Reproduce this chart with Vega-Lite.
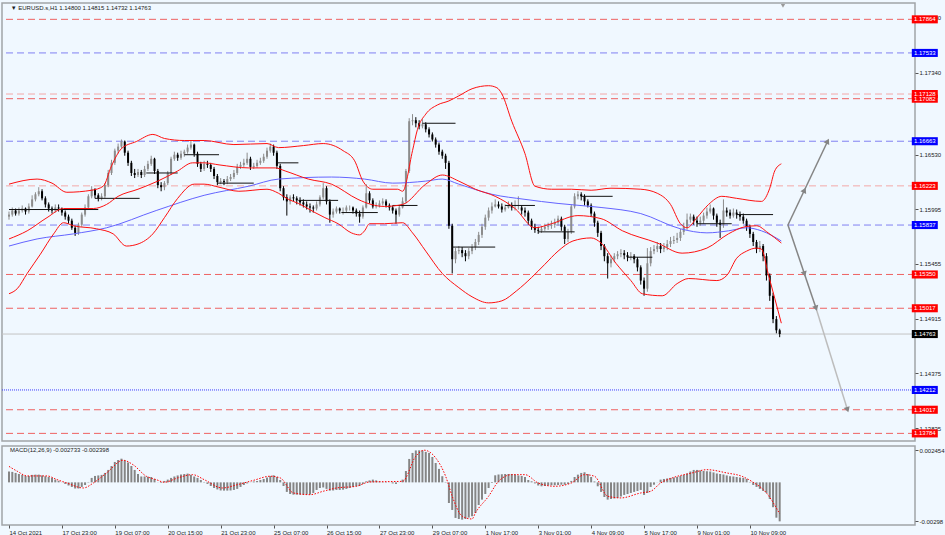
{
  "$schema": "https://vega.github.io/schema/vega-lite/v6.json",
  "background": "#f0f8ff",
  "padding": {"left": 0, "top": 2, "right": 0, "bottom": 0},
  "spacing": 3,
  "config": {
    "font": "Liberation Sans",
    "view": {"stroke": "#a0a4a8", "strokeWidth": 1.5},
    "axis": {"labelFont": "Liberation Sans", "labelFontSize": 6, "labelColor": "#1a1a1a", "tickColor": "#555555", "domain": false, "grid": false}
  },
  "datasets": {
    "bars": [
      {"i":0,"o":1.1592,"h":1.1597,"l":1.1589,"c":1.1594,"m":0.00083},
      {"i":2,"o":1.1594,"h":1.1601,"l":1.1592,"c":1.1598,"m":0.0008},
      {"i":4,"o":1.1598,"h":1.16,"l":1.1593,"c":1.1595,"m":0.00072},
      {"i":6,"o":1.1595,"h":1.1601,"l":1.1593,"c":1.1598,"m":0.00064},
      {"i":8,"o":1.1598,"h":1.1603,"l":1.1596,"c":1.16,"m":0.00057},
      {"i":10,"o":1.16,"h":1.1601,"l":1.1594,"c":1.1597,"m":0.00049},
      {"i":12,"o":1.1597,"h":1.1605,"l":1.1595,"c":1.1602,"m":0.00049},
      {"i":14,"o":1.1602,"h":1.1613,"l":1.1601,"c":1.1609,"m":0.00057},
      {"i":16,"o":1.1609,"h":1.1616,"l":1.1607,"c":1.1614,"m":0.00059},
      {"i":18,"o":1.1614,"h":1.1621,"l":1.1612,"c":1.1617,"m":0.00059},
      {"i":20,"o":1.1617,"h":1.1619,"l":1.1608,"c":1.161,"m":0.00053},
      {"i":22,"o":1.161,"h":1.1612,"l":1.1601,"c":1.1604,"m":0.00047},
      {"i":24,"o":1.1604,"h":1.1606,"l":1.1597,"c":1.16,"m":0.00041},
      {"i":26,"o":1.16,"h":1.1602,"l":1.1595,"c":1.1598,"m":0.00034},
      {"i":28,"o":1.1598,"h":1.1604,"l":1.1596,"c":1.1601,"m":0.00021},
      {"i":30,"o":1.1601,"h":1.1604,"l":1.1597,"c":1.16,"m":0.00011},
      {"i":32,"o":1.16,"h":1.1601,"l":1.1593,"c":1.1596,"m":-0.00001},
      {"i":34,"o":1.1596,"h":1.1598,"l":1.1589,"c":1.1592,"m":-0.00012},
      {"i":36,"o":1.1592,"h":1.1594,"l":1.1585,"c":1.1588,"m":-0.00024},
      {"i":38,"o":1.1588,"h":1.159,"l":1.1579,"c":1.1581,"m":-0.00035},
      {"i":40,"o":1.1581,"h":1.1583,"l":1.1573,"c":1.1576,"m":-0.00047},
      {"i":42,"o":1.1576,"h":1.1586,"l":1.1574,"c":1.1584,"m":-0.00047},
      {"i":44,"o":1.1584,"h":1.1596,"l":1.1582,"c":1.1594,"m":-0.00035},
      {"i":46,"o":1.1594,"h":1.1604,"l":1.1592,"c":1.1601,"m":-0.0002},
      {"i":48,"o":1.1601,"h":1.1614,"l":1.16,"c":1.1612,"m":0.00003},
      {"i":50,"o":1.1612,"h":1.1622,"l":1.161,"c":1.1619,"m":0.00034},
      {"i":52,"o":1.1619,"h":1.162,"l":1.161,"c":1.1613,"m":0.00049},
      {"i":54,"o":1.1613,"h":1.1615,"l":1.1607,"c":1.161,"m":0.00053},
      {"i":56,"o":1.161,"h":1.1615,"l":1.1608,"c":1.1612,"m":0.00057},
      {"i":58,"o":1.1612,"h":1.1625,"l":1.161,"c":1.1623,"m":0.00072},
      {"i":60,"o":1.1623,"h":1.1638,"l":1.1621,"c":1.1635,"m":0.00095},
      {"i":62,"o":1.1635,"h":1.1648,"l":1.1633,"c":1.1645,"m":0.00125},
      {"i":64,"o":1.1645,"h":1.1659,"l":1.1643,"c":1.1657,"m":0.00156},
      {"i":66,"o":1.1657,"h":1.1664,"l":1.1654,"c":1.1661,"m":0.00171},
      {"i":68,"o":1.1661,"h":1.1668,"l":1.1659,"c":1.1666,"m":0.00181},
      {"i":70,"o":1.1666,"h":1.1667,"l":1.1652,"c":1.1655,"m":0.00168},
      {"i":72,"o":1.1655,"h":1.1657,"l":1.1642,"c":1.1645,"m":0.00152},
      {"i":74,"o":1.1645,"h":1.1647,"l":1.1632,"c":1.1635,"m":0.00125},
      {"i":76,"o":1.1635,"h":1.1639,"l":1.163,"c":1.1633,"m":0.00095},
      {"i":78,"o":1.1633,"h":1.1639,"l":1.1631,"c":1.1636,"m":0.00064},
      {"i":80,"o":1.1636,"h":1.1638,"l":1.163,"c":1.1633,"m":0.00045},
      {"i":82,"o":1.1633,"h":1.1642,"l":1.1631,"c":1.1639,"m":0.00045},
      {"i":84,"o":1.1639,"h":1.1647,"l":1.1637,"c":1.1644,"m":0.00043},
      {"i":86,"o":1.1644,"h":1.1652,"l":1.1642,"c":1.1649,"m":0.00041},
      {"i":88,"o":1.1649,"h":1.165,"l":1.1634,"c":1.1637,"m":0.00026},
      {"i":90,"o":1.1637,"h":1.1639,"l":1.162,"c":1.1623,"m":-0.00001},
      {"i":92,"o":1.1623,"h":1.1626,"l":1.1617,"c":1.1621,"m":-0.00005},
      {"i":94,"o":1.1621,"h":1.1627,"l":1.1618,"c":1.1625,"m":0.00011},
      {"i":96,"o":1.1625,"h":1.1637,"l":1.1623,"c":1.1635,"m":0.00021},
      {"i":98,"o":1.1635,"h":1.1651,"l":1.1633,"c":1.1649,"m":0.00034},
      {"i":100,"o":1.1649,"h":1.1656,"l":1.1647,"c":1.1653,"m":0.00045},
      {"i":102,"o":1.1653,"h":1.1655,"l":1.1647,"c":1.165,"m":0.00053},
      {"i":104,"o":1.165,"h":1.1657,"l":1.1648,"c":1.1654,"m":0.0006},
      {"i":106,"o":1.1654,"h":1.1658,"l":1.1651,"c":1.1656,"m":0.00064},
      {"i":108,"o":1.1656,"h":1.1663,"l":1.1654,"c":1.166,"m":0.00067},
      {"i":110,"o":1.166,"h":1.1667,"l":1.1658,"c":1.1663,"m":0.00057},
      {"i":112,"o":1.1663,"h":1.1664,"l":1.1651,"c":1.1654,"m":0.00045},
      {"i":114,"o":1.1654,"h":1.1656,"l":1.1641,"c":1.1644,"m":0.00034},
      {"i":116,"o":1.1644,"h":1.1646,"l":1.1636,"c":1.1639,"m":0.00018},
      {"i":118,"o":1.1639,"h":1.1647,"l":1.1637,"c":1.1644,"m":0.00003},
      {"i":120,"o":1.1644,"h":1.1647,"l":1.164,"c":1.1643,"m":-0.00012},
      {"i":122,"o":1.1643,"h":1.1645,"l":1.1636,"c":1.1639,"m":-0.00028},
      {"i":124,"o":1.1639,"h":1.1641,"l":1.1629,"c":1.1632,"m":-0.00043},
      {"i":126,"o":1.1632,"h":1.1634,"l":1.1623,"c":1.1626,"m":-0.00054},
      {"i":128,"o":1.1626,"h":1.163,"l":1.1624,"c":1.1627,"m":-0.00062},
      {"i":130,"o":1.1627,"h":1.1629,"l":1.1623,"c":1.1626,"m":-0.00063},
      {"i":132,"o":1.1626,"h":1.1632,"l":1.1624,"c":1.1629,"m":-0.00063},
      {"i":134,"o":1.1629,"h":1.1634,"l":1.1627,"c":1.1631,"m":-0.00062},
      {"i":136,"o":1.1631,"h":1.1638,"l":1.1629,"c":1.1635,"m":-0.00058},
      {"i":138,"o":1.1635,"h":1.1644,"l":1.1633,"c":1.1641,"m":-0.0005},
      {"i":140,"o":1.1641,"h":1.1646,"l":1.1639,"c":1.1643,"m":-0.00035},
      {"i":142,"o":1.1643,"h":1.1649,"l":1.1641,"c":1.1645,"m":-0.0002},
      {"i":144,"o":1.1645,"h":1.1655,"l":1.1643,"c":1.1649,"m":-0.00008},
      {"i":146,"o":1.1649,"h":1.1651,"l":1.1638,"c":1.1641,"m":-0.00001},
      {"i":148,"o":1.1641,"h":1.1645,"l":1.1639,"c":1.1642,"m":0.00007},
      {"i":150,"o":1.1642,"h":1.1648,"l":1.164,"c":1.1645,"m":0.00011},
      {"i":152,"o":1.1645,"h":1.165,"l":1.1643,"c":1.1647,"m":0.00018},
      {"i":154,"o":1.1647,"h":1.1654,"l":1.1645,"c":1.1651,"m":0.00026},
      {"i":156,"o":1.1651,"h":1.166,"l":1.1649,"c":1.1657,"m":0.00037},
      {"i":158,"o":1.1657,"h":1.1664,"l":1.1655,"c":1.1661,"m":0.00049},
      {"i":160,"o":1.1661,"h":1.1663,"l":1.1652,"c":1.1655,"m":0.00054},
      {"i":162,"o":1.1655,"h":1.1657,"l":1.1639,"c":1.1642,"m":0.00041},
      {"i":164,"o":1.1642,"h":1.1644,"l":1.1617,"c":1.162,"m":0.00018},
      {"i":166,"o":1.162,"h":1.1622,"l":1.1608,"c":1.1611,"m":-0.00028},
      {"i":168,"o":1.1611,"h":1.1614,"l":1.1593,"c":1.1607,"m":-0.00073},
      {"i":170,"o":1.1607,"h":1.1613,"l":1.1604,"c":1.1611,"m":-0.00089},
      {"i":172,"o":1.1611,"h":1.1614,"l":1.1607,"c":1.161,"m":-0.00094},
      {"i":174,"o":1.161,"h":1.1612,"l":1.1604,"c":1.1608,"m":-0.00094},
      {"i":176,"o":1.1608,"h":1.1611,"l":1.1603,"c":1.1606,"m":-0.00094},
      {"i":178,"o":1.1606,"h":1.1609,"l":1.1601,"c":1.1604,"m":-0.00094},
      {"i":180,"o":1.1604,"h":1.1607,"l":1.1599,"c":1.1602,"m":-0.00093},
      {"i":182,"o":1.1602,"h":1.1605,"l":1.1596,"c":1.1601,"m":-0.00093},
      {"i":184,"o":1.1601,"h":1.1603,"l":1.1596,"c":1.16,"m":-0.00081},
      {"i":186,"o":1.16,"h":1.1607,"l":1.1598,"c":1.1604,"m":-0.00058},
      {"i":188,"o":1.1604,"h":1.1613,"l":1.1602,"c":1.1611,"m":-0.00043},
      {"i":190,"o":1.1611,"h":1.1625,"l":1.1609,"c":1.162,"m":-0.00039},
      {"i":192,"o":1.162,"h":1.1622,"l":1.1604,"c":1.1607,"m":-0.0005},
      {"i":194,"o":1.1607,"h":1.1609,"l":1.1586,"c":1.1594,"m":-0.00063},
      {"i":196,"o":1.1594,"h":1.16,"l":1.1591,"c":1.1597,"m":-0.00062},
      {"i":198,"o":1.1597,"h":1.1602,"l":1.1595,"c":1.16,"m":-0.00058},
      {"i":200,"o":1.16,"h":1.1601,"l":1.1595,"c":1.1598,"m":-0.00058},
      {"i":202,"o":1.1598,"h":1.1601,"l":1.1594,"c":1.1598,"m":-0.00056},
      {"i":204,"o":1.1598,"h":1.1603,"l":1.1596,"c":1.1601,"m":-0.0005},
      {"i":206,"o":1.1601,"h":1.1603,"l":1.1598,"c":1.1601,"m":-0.00043},
      {"i":208,"o":1.1601,"h":1.1602,"l":1.1595,"c":1.1598,"m":-0.00035},
      {"i":210,"o":1.1598,"h":1.16,"l":1.1592,"c":1.1595,"m":-0.0003},
      {"i":212,"o":1.1595,"h":1.1598,"l":1.1586,"c":1.1592,"m":-0.00028},
      {"i":214,"o":1.1592,"h":1.1603,"l":1.159,"c":1.1601,"m":-0.00012},
      {"i":216,"o":1.1601,"h":1.1624,"l":1.16,"c":1.1615,"m":0.00008},
      {"i":218,"o":1.1615,"h":1.1617,"l":1.1605,"c":1.1608,"m":0.00015},
      {"i":220,"o":1.1608,"h":1.161,"l":1.16,"c":1.1602,"m":0.00021},
      {"i":222,"o":1.1602,"h":1.1606,"l":1.16,"c":1.1603,"m":0.00015},
      {"i":224,"o":1.1603,"h":1.1608,"l":1.1601,"c":1.1605,"m":0.00007},
      {"i":226,"o":1.1605,"h":1.161,"l":1.1603,"c":1.1607,"m":0.00003},
      {"i":228,"o":1.1607,"h":1.1609,"l":1.1601,"c":1.1603,"m":0.00003},
      {"i":230,"o":1.1603,"h":1.1605,"l":1.1598,"c":1.1601,"m":-0.00001},
      {"i":232,"o":1.1601,"h":1.1603,"l":1.1595,"c":1.1598,"m":-0.00008},
      {"i":234,"o":1.1598,"h":1.16,"l":1.1585,"c":1.1594,"m":-0.00012},
      {"i":236,"o":1.1594,"h":1.1603,"l":1.1592,"c":1.1601,"m":-0.00001},
      {"i":238,"o":1.1601,"h":1.1611,"l":1.16,"c":1.1607,"m":0.00021},
      {"i":240,"o":1.1607,"h":1.1639,"l":1.1605,"c":1.1637,"m":0.00087},
      {"i":242,"o":1.1637,"h":1.1689,"l":1.1635,"c":1.1686,"m":0.00179},
      {"i":244,"o":1.1686,"h":1.1693,"l":1.1682,"c":1.1687,"m":0.00225},
      {"i":246,"o":1.1687,"h":1.169,"l":1.168,"c":1.1684,"m":0.00244},
      {"i":248,"o":1.1684,"h":1.1687,"l":1.1678,"c":1.1681,"m":0.00245},
      {"i":250,"o":1.1681,"h":1.1688,"l":1.1679,"c":1.1683,"m":0.00244},
      {"i":252,"o":1.1683,"h":1.1685,"l":1.1675,"c":1.1678,"m":0.00233},
      {"i":254,"o":1.1678,"h":1.168,"l":1.167,"c":1.1673,"m":0.00225},
      {"i":256,"o":1.1673,"h":1.1675,"l":1.1666,"c":1.1668,"m":0.00194},
      {"i":258,"o":1.1668,"h":1.167,"l":1.166,"c":1.1663,"m":0.00148},
      {"i":260,"o":1.1663,"h":1.1665,"l":1.1653,"c":1.1656,"m":0.00103},
      {"i":262,"o":1.1656,"h":1.1658,"l":1.1649,"c":1.1652,"m":0.00047},
      {"i":264,"o":1.1652,"h":1.1654,"l":1.1639,"c":1.1645,"m":0.00003},
      {"i":266,"o":1.1645,"h":1.1647,"l":1.158,"c":1.1583,"m":-0.00158},
      {"i":268,"o":1.1583,"h":1.1585,"l":1.1536,"c":1.155,"m":-0.00211},
      {"i":270,"o":1.155,"h":1.1561,"l":1.1546,"c":1.1558,"m":-0.00272},
      {"i":272,"o":1.1558,"h":1.1563,"l":1.1555,"c":1.1559,"m":-0.0028},
      {"i":274,"o":1.1559,"h":1.1562,"l":1.1552,"c":1.1556,"m":-0.00285},
      {"i":276,"o":1.1556,"h":1.1559,"l":1.1548,"c":1.1553,"m":-0.0028},
      {"i":278,"o":1.1553,"h":1.1561,"l":1.155,"c":1.1558,"m":-0.00269},
      {"i":280,"o":1.1558,"h":1.1565,"l":1.1555,"c":1.1562,"m":-0.00259},
      {"i":282,"o":1.1562,"h":1.157,"l":1.1559,"c":1.1567,"m":-0.00234},
      {"i":284,"o":1.1567,"h":1.1577,"l":1.1564,"c":1.1574,"m":-0.00173},
      {"i":286,"o":1.1574,"h":1.1585,"l":1.1571,"c":1.1582,"m":-0.00132},
      {"i":288,"o":1.1582,"h":1.1594,"l":1.1579,"c":1.1591,"m":-0.00089},
      {"i":290,"o":1.1591,"h":1.1601,"l":1.1588,"c":1.1598,"m":-0.00043},
      {"i":292,"o":1.1598,"h":1.1606,"l":1.1595,"c":1.1602,"m":-0.00005},
      {"i":294,"o":1.1602,"h":1.1609,"l":1.1601,"c":1.1604,"m":0.00054},
      {"i":296,"o":1.1604,"h":1.1607,"l":1.16,"c":1.1602,"m":0.0006},
      {"i":298,"o":1.1602,"h":1.1605,"l":1.1596,"c":1.1599,"m":0.00062},
      {"i":300,"o":1.1599,"h":1.1604,"l":1.1597,"c":1.1601,"m":0.00064},
      {"i":302,"o":1.1601,"h":1.1607,"l":1.16,"c":1.1603,"m":0.00064},
      {"i":304,"o":1.1603,"h":1.1606,"l":1.1598,"c":1.1601,"m":0.00064},
      {"i":306,"o":1.1601,"h":1.1608,"l":1.1598,"c":1.1601,"m":0.0006},
      {"i":308,"o":1.1601,"h":1.1612,"l":1.1599,"c":1.1601,"m":0.00053},
      {"i":310,"o":1.1601,"h":1.1603,"l":1.1594,"c":1.1598,"m":0.00049},
      {"i":312,"o":1.1598,"h":1.1601,"l":1.1592,"c":1.1596,"m":0.00041},
      {"i":314,"o":1.1596,"h":1.1598,"l":1.1584,"c":1.1588,"m":0.00018},
      {"i":316,"o":1.1588,"h":1.159,"l":1.1579,"c":1.1582,"m":0.00008},
      {"i":318,"o":1.1582,"h":1.1585,"l":1.1576,"c":1.1579,"m":-0.00008},
      {"i":320,"o":1.1579,"h":1.1582,"l":1.1575,"c":1.1578,"m":-0.00024},
      {"i":322,"o":1.1578,"h":1.1583,"l":1.1576,"c":1.158,"m":-0.0003},
      {"i":324,"o":1.158,"h":1.1585,"l":1.1578,"c":1.1582,"m":-0.00028},
      {"i":326,"o":1.1582,"h":1.1586,"l":1.1579,"c":1.1583,"m":-0.00024},
      {"i":328,"o":1.1583,"h":1.1588,"l":1.158,"c":1.1584,"m":-0.00022},
      {"i":330,"o":1.1584,"h":1.159,"l":1.1581,"c":1.1586,"m":-0.00022},
      {"i":332,"o":1.1586,"h":1.1593,"l":1.1583,"c":1.159,"m":-0.0002},
      {"i":334,"o":1.159,"h":1.1592,"l":1.1578,"c":1.1582,"m":-0.00018},
      {"i":336,"o":1.1582,"h":1.1584,"l":1.1565,"c":1.157,"m":-0.00018},
      {"i":338,"o":1.157,"h":1.158,"l":1.1567,"c":1.1577,"m":-0.00012},
      {"i":340,"o":1.1577,"h":1.1604,"l":1.1575,"c":1.1602,"m":0.00011},
      {"i":342,"o":1.1602,"h":1.1615,"l":1.16,"c":1.1612,"m":0.00041},
      {"i":344,"o":1.1612,"h":1.1617,"l":1.1609,"c":1.1614,"m":0.00059},
      {"i":346,"o":1.1614,"h":1.1616,"l":1.1608,"c":1.1612,"m":0.00072},
      {"i":348,"o":1.1612,"h":1.1614,"l":1.1603,"c":1.1607,"m":0.00077},
      {"i":350,"o":1.1607,"h":1.1609,"l":1.1601,"c":1.1603,"m":0.00064},
      {"i":352,"o":1.1603,"h":1.1605,"l":1.1592,"c":1.1595,"m":0.00041},
      {"i":354,"o":1.1595,"h":1.1597,"l":1.1582,"c":1.1586,"m":0.00007},
      {"i":356,"o":1.1586,"h":1.1588,"l":1.1572,"c":1.1576,"m":-0.0003},
      {"i":358,"o":1.1576,"h":1.1578,"l":1.1559,"c":1.1563,"m":-0.00073},
      {"i":360,"o":1.1563,"h":1.1565,"l":1.1548,"c":1.1553,"m":-0.00112},
      {"i":362,"o":1.1553,"h":1.1556,"l":1.1531,"c":1.1546,"m":-0.00132},
      {"i":364,"o":1.1546,"h":1.1554,"l":1.1542,"c":1.155,"m":-0.00127},
      {"i":366,"o":1.155,"h":1.1556,"l":1.1547,"c":1.1553,"m":-0.00123},
      {"i":368,"o":1.1553,"h":1.1558,"l":1.155,"c":1.1555,"m":-0.00119},
      {"i":370,"o":1.1555,"h":1.156,"l":1.1552,"c":1.1556,"m":-0.00108},
      {"i":372,"o":1.1556,"h":1.1559,"l":1.155,"c":1.1554,"m":-0.00096},
      {"i":374,"o":1.1554,"h":1.1557,"l":1.1548,"c":1.1552,"m":-0.00089},
      {"i":376,"o":1.1552,"h":1.1557,"l":1.1549,"c":1.1553,"m":-0.00081},
      {"i":378,"o":1.1553,"h":1.1555,"l":1.1546,"c":1.155,"m":-0.00073},
      {"i":380,"o":1.155,"h":1.1552,"l":1.1538,"c":1.1542,"m":-0.00066},
      {"i":382,"o":1.1542,"h":1.1544,"l":1.1525,"c":1.1529,"m":-0.00058},
      {"i":384,"o":1.1529,"h":1.1532,"l":1.1514,"c":1.1521,"m":-0.00096},
      {"i":386,"o":1.1521,"h":1.1561,"l":1.1518,"c":1.1546,"m":-0.00081},
      {"i":388,"o":1.1546,"h":1.1562,"l":1.1543,"c":1.1558,"m":-0.00035},
      {"i":390,"o":1.1558,"h":1.1564,"l":1.1555,"c":1.156,"m":-0.00018},
      {"i":392,"o":1.156,"h":1.1567,"l":1.1557,"c":1.1563,"m":-0.00001},
      {"i":394,"o":1.1563,"h":1.1566,"l":1.1556,"c":1.156,"m":0.00021},
      {"i":396,"o":1.156,"h":1.1566,"l":1.1557,"c":1.1562,"m":0.00026},
      {"i":398,"o":1.1562,"h":1.1569,"l":1.1559,"c":1.1565,"m":0.0003},
      {"i":400,"o":1.1565,"h":1.1572,"l":1.1562,"c":1.1568,"m":0.00034},
      {"i":402,"o":1.1568,"h":1.1573,"l":1.1565,"c":1.1569,"m":0.00037},
      {"i":404,"o":1.1569,"h":1.1576,"l":1.1566,"c":1.1571,"m":0.00041},
      {"i":406,"o":1.1571,"h":1.158,"l":1.1568,"c":1.1577,"m":0.00049},
      {"i":408,"o":1.1577,"h":1.1586,"l":1.1574,"c":1.1582,"m":0.00057},
      {"i":410,"o":1.1582,"h":1.1595,"l":1.1579,"c":1.1589,"m":0.00068},
      {"i":412,"o":1.1589,"h":1.1595,"l":1.1586,"c":1.1592,"m":0.00083},
      {"i":414,"o":1.1592,"h":1.1594,"l":1.1584,"c":1.1588,"m":0.00095},
      {"i":416,"o":1.1588,"h":1.1592,"l":1.1582,"c":1.1586,"m":0.00095},
      {"i":418,"o":1.1586,"h":1.1592,"l":1.1583,"c":1.1588,"m":0.00091},
      {"i":420,"o":1.1588,"h":1.1596,"l":1.1585,"c":1.1593,"m":0.00087},
      {"i":422,"o":1.1593,"h":1.1601,"l":1.159,"c":1.1597,"m":0.00085},
      {"i":424,"o":1.1597,"h":1.1604,"l":1.1595,"c":1.16,"m":0.00083},
      {"i":426,"o":1.16,"h":1.1601,"l":1.1589,"c":1.1593,"m":0.00076},
      {"i":428,"o":1.1593,"h":1.1595,"l":1.1582,"c":1.1586,"m":0.00068},
      {"i":430,"o":1.1586,"h":1.1589,"l":1.1571,"c":1.1584,"m":0.00064},
      {"i":432,"o":1.1584,"h":1.1609,"l":1.1581,"c":1.1598,"m":0.0006},
      {"i":434,"o":1.1598,"h":1.1601,"l":1.1592,"c":1.1596,"m":0.00053},
      {"i":436,"o":1.1596,"h":1.1599,"l":1.159,"c":1.1593,"m":0.00047},
      {"i":438,"o":1.1593,"h":1.16,"l":1.1591,"c":1.1596,"m":0.00045},
      {"i":440,"o":1.1596,"h":1.1599,"l":1.159,"c":1.1594,"m":0.00041},
      {"i":442,"o":1.1594,"h":1.1597,"l":1.1588,"c":1.1592,"m":0.00037},
      {"i":444,"o":1.1592,"h":1.1595,"l":1.1585,"c":1.1588,"m":0.00034},
      {"i":446,"o":1.1588,"h":1.159,"l":1.1578,"c":1.1582,"m":0.00026},
      {"i":448,"o":1.1582,"h":1.1584,"l":1.1571,"c":1.1575,"m":0.00003},
      {"i":450,"o":1.1575,"h":1.1577,"l":1.1563,"c":1.1567,"m":-0.0002},
      {"i":452,"o":1.1567,"h":1.1569,"l":1.1556,"c":1.156,"m":-0.00035},
      {"i":454,"o":1.156,"h":1.1568,"l":1.1557,"c":1.1563,"m":-0.0005},
      {"i":456,"o":1.1563,"h":1.1565,"l":1.1548,"c":1.1553,"m":-0.00066},
      {"i":458,"o":1.1553,"h":1.1556,"l":1.1529,"c":1.1534,"m":-0.00081},
      {"i":460,"o":1.1534,"h":1.1536,"l":1.1509,"c":1.1514,"m":-0.00127},
      {"i":462,"o":1.1514,"h":1.1517,"l":1.1487,"c":1.1491,"m":-0.0019},
      {"i":464,"o":1.1491,"h":1.1494,"l":1.1477,"c":1.148,"m":-0.0027},
      {"i":466,"o":1.148,"h":1.14815,"l":1.14732,"c":1.14763,"m":-0.00298}
    ],
    "signal": [
      {"i":0,"s":0.00122},{"i":5,"s":0.00085},{"i":11,"s":0.00049},{"i":23,"s":0.00049},
      {"i":29,"s":0.00021},{"i":35,"s":-0.00005},{"i":45,"s":-0.00043},{"i":51,"s":-0.00005},
      {"i":59,"s":0.00072},{"i":69,"s":0.00169},{"i":75,"s":0.00135},{"i":83,"s":0.00047},
      {"i":89,"s":0.00021},{"i":94,"s":0.00001},{"i":102,"s":0.00034},{"i":111,"s":0.00059},
      {"i":118,"s":0.00021},{"i":129,"s":-0.00043},{"i":138,"s":-0.00018},{"i":148,"s":0.00016},
      {"i":158,"s":0.00047},{"i":164,"s":0.00034},{"i":172,"s":-0.00081},{"i":182,"s":-0.00094},
      {"i":190,"s":-0.00068},{"i":198,"s":-0.00043},{"i":210,"s":-0.0003},{"i":218,"s":0.00003},
      {"i":238,"s":0.00008},{"i":246,"s":0.002},{"i":251,"s":0.00246},{"i":258,"s":0.00187},
      {"i":264,"s":0.00047},{"i":268,"s":-0.00106},{"i":274,"s":-0.00259},{"i":280,"s":-0.0028},
      {"i":282,"s":-0.00234},{"i":290,"s":-0.00106},{"i":296,"s":0.00008},{"i":304,"s":0.00059},
      {"i":312,"s":0.00059},{"i":320,"s":-0.00005},{"i":330,"s":-0.0003},{"i":340,"s":-0.00005},
      {"i":348,"s":0.00059},{"i":354,"s":0.00047},{"i":362,"s":-0.00106},{"i":370,"s":-0.00119},
      {"i":382,"s":-0.00081},{"i":388,"s":-0.00068},{"i":394,"s":-0.00005},{"i":401,"s":0.00034},
      {"i":413,"s":0.00072},{"i":422,"s":0.00097},{"i":434,"s":0.00072},{"i":443,"s":0.00047},
      {"i":449,"s":0.00008},{"i":458,"s":-0.00081},{"i":466,"s":-0.0024}
    ],
    "bands": [
      {"b":"upper","i":0,"p":1.1624},{"b":"upper","i":17,"p":1.1629},{"b":"upper","i":26,"p":1.1625},{"b":"upper","i":35,"p":1.1616},
      {"b":"upper","i":50,"p":1.1618},{"b":"upper","i":57,"p":1.1622},{"b":"upper","i":62,"p":1.1642},{"b":"upper","i":68,"p":1.1659},
      {"b":"upper","i":77,"p":1.1666},{"b":"upper","i":87,"p":1.1673},{"b":"upper","i":94,"p":1.1669},{"b":"upper","i":106,"p":1.1667},
      {"b":"upper","i":118,"p":1.1667},{"b":"upper","i":136,"p":1.1663},{"b":"upper","i":156,"p":1.1664},{"b":"upper","i":163,"p":1.166},
      {"b":"upper","i":178,"p":1.1662},{"b":"upper","i":190,"p":1.1664},{"b":"upper","i":202,"p":1.1657},{"b":"upper","i":209,"p":1.1647},
      {"b":"upper","i":214,"p":1.1627},{"b":"upper","i":220,"p":1.1619},{"b":"upper","i":235,"p":1.1619},{"b":"upper","i":238,"p":1.1617},
      {"b":"upper","i":244,"p":1.1657},{"b":"upper","i":247,"p":1.1678},{"b":"upper","i":252,"p":1.1693},{"b":"upper","i":259,"p":1.1702},
      {"b":"upper","i":266,"p":1.1706},{"b":"upper","i":272,"p":1.1711},{"b":"upper","i":280,"p":1.1718},{"b":"upper","i":290,"p":1.1721},
      {"b":"upper","i":295,"p":1.1719},{"b":"upper","i":298,"p":1.1713},{"b":"upper","i":304,"p":1.1686},{"b":"upper","i":312,"p":1.1654},
      {"b":"upper","i":318,"p":1.1622},{"b":"upper","i":328,"p":1.1619},{"b":"upper","i":340,"p":1.1619},{"b":"upper","i":352,"p":1.1618},
      {"b":"upper","i":364,"p":1.162},{"b":"upper","i":382,"p":1.1619},{"b":"upper","i":392,"p":1.1615},{"b":"upper","i":400,"p":1.1604},
      {"b":"upper","i":406,"p":1.1585},{"b":"upper","i":410,"p":1.1581},{"b":"upper","i":416,"p":1.1591},{"b":"upper","i":423,"p":1.1604},
      {"b":"upper","i":431,"p":1.1612},{"b":"upper","i":440,"p":1.161},{"b":"upper","i":455,"p":1.1607},{"b":"upper","i":460,"p":1.162},
      {"b":"upper","i":463,"p":1.1637},{"b":"upper","i":467,"p":1.1644},
      {"b":"middle","i":0,"p":1.157},{"b":"middle","i":11,"p":1.1578},{"b":"middle","i":23,"p":1.1591},{"b":"middle","i":33,"p":1.16},
      {"b":"middle","i":51,"p":1.16},{"b":"middle","i":59,"p":1.1604},{"b":"middle","i":66,"p":1.1612},{"b":"middle","i":78,"p":1.1619},
      {"b":"middle","i":90,"p":1.1627},{"b":"middle","i":102,"p":1.1637},{"b":"middle","i":111,"p":1.1645},{"b":"middle","i":118,"p":1.1645},
      {"b":"middle","i":127,"p":1.1643},{"b":"middle","i":145,"p":1.164},{"b":"middle","i":161,"p":1.164},{"b":"middle","i":167,"p":1.1637},
      {"b":"middle","i":181,"p":1.1629},{"b":"middle","i":195,"p":1.1624},{"b":"middle","i":211,"p":1.1609},{"b":"middle","i":219,"p":1.1604},
      {"b":"middle","i":227,"p":1.1602},{"b":"middle","i":238,"p":1.1604},{"b":"middle","i":252,"p":1.1624},{"b":"middle","i":262,"p":1.1633},
      {"b":"middle","i":272,"p":1.1627},{"b":"middle","i":282,"p":1.1619},{"b":"middle","i":294,"p":1.1612},{"b":"middle","i":306,"p":1.16},
      {"b":"middle","i":318,"p":1.1581},{"b":"middle","i":328,"p":1.1585},{"b":"middle","i":344,"p":1.1593},{"b":"middle","i":358,"p":1.159},
      {"b":"middle","i":371,"p":1.1578},{"b":"middle","i":392,"p":1.1566},{"b":"middle","i":407,"p":1.1556},{"b":"middle","i":422,"p":1.1561},
      {"b":"middle","i":435,"p":1.1575},{"b":"middle","i":445,"p":1.1582},{"b":"middle","i":452,"p":1.1583},{"b":"middle","i":459,"p":1.1576},
      {"b":"middle","i":467,"p":1.1566},
      {"b":"lower","i":0,"p":1.1516},{"b":"lower","i":5,"p":1.1521},{"b":"lower","i":11,"p":1.1536},{"b":"lower","i":19,"p":1.1555},
      {"b":"lower","i":27,"p":1.1575},{"b":"lower","i":33,"p":1.1586},{"b":"lower","i":39,"p":1.1583},{"b":"lower","i":53,"p":1.158},
      {"b":"lower","i":63,"p":1.1575},{"b":"lower","i":71,"p":1.1563},{"b":"lower","i":78,"p":1.1565},{"b":"lower","i":87,"p":1.1575},
      {"b":"lower","i":94,"p":1.1591},{"b":"lower","i":102,"p":1.161},{"b":"lower","i":112,"p":1.1624},{"b":"lower","i":118,"p":1.1624},
      {"b":"lower","i":127,"p":1.1621},{"b":"lower","i":139,"p":1.1617},{"b":"lower","i":156,"p":1.1619},{"b":"lower","i":163,"p":1.1615},
      {"b":"lower","i":169,"p":1.1609},{"b":"lower","i":175,"p":1.1605},{"b":"lower","i":185,"p":1.1596},{"b":"lower","i":191,"p":1.1591},
      {"b":"lower","i":199,"p":1.1585},{"b":"lower","i":207,"p":1.1576},{"b":"lower","i":212,"p":1.1574},{"b":"lower","i":215,"p":1.1578},
      {"b":"lower","i":218,"p":1.1585},{"b":"lower","i":227,"p":1.1585},{"b":"lower","i":238,"p":1.1586},{"b":"lower","i":244,"p":1.1576},
      {"b":"lower","i":252,"p":1.1558},{"b":"lower","i":262,"p":1.1536},{"b":"lower","i":272,"p":1.1522},{"b":"lower","i":280,"p":1.1513},
      {"b":"lower","i":290,"p":1.1507},{"b":"lower","i":298,"p":1.1509},{"b":"lower","i":307,"p":1.1519},{"b":"lower","i":316,"p":1.1532},
      {"b":"lower","i":324,"p":1.1545},{"b":"lower","i":332,"p":1.1558},{"b":"lower","i":341,"p":1.1568},{"b":"lower","i":352,"p":1.1571},
      {"b":"lower","i":358,"p":1.1566},{"b":"lower","i":367,"p":1.1546},{"b":"lower","i":376,"p":1.1529},{"b":"lower","i":383,"p":1.1516},
      {"b":"lower","i":395,"p":1.1514},{"b":"lower","i":404,"p":1.1526},{"b":"lower","i":411,"p":1.1531},{"b":"lower","i":428,"p":1.1529},
      {"b":"lower","i":434,"p":1.1534},{"b":"lower","i":440,"p":1.1551},{"b":"lower","i":446,"p":1.1558},{"b":"lower","i":452,"p":1.1561},
      {"b":"lower","i":455,"p":1.156},{"b":"lower","i":459,"p":1.1536},{"b":"lower","i":467,"p":1.1487}
    ],
    "ma": [
      {"i":0,"p":1.1563},{"i":17,"p":1.157},{"i":39,"p":1.1575},{"i":59,"p":1.1581},{"i":89,"p":1.1598},
      {"i":118,"p":1.1613},{"i":145,"p":1.1622},{"i":163,"p":1.1629},{"i":195,"p":1.1631},{"i":215,"p":1.1629},
      {"i":232,"p":1.1625},{"i":252,"p":1.1627},{"i":262,"p":1.1629},{"i":272,"p":1.1624},{"i":292,"p":1.1614},
      {"i":312,"p":1.1609},{"i":332,"p":1.1605},{"i":352,"p":1.1602},{"i":358,"p":1.1601},{"i":382,"p":1.1595},
      {"i":406,"p":1.158},{"i":422,"p":1.1576},{"i":435,"p":1.1578},{"i":446,"p":1.1581},{"i":455,"p":1.1578},
      {"i":467,"p":1.1568}
    ],
    "segs": [
      {"i":0,"i2":54,"p":1.1599},{"i":52,"i2":79,"p":1.161},{"i":83,"i2":102,"p":1.1635},{"i":106,"i2":127,"p":1.1653},
      {"i":126,"i2":148,"p":1.1625},{"i":162,"i2":175,"p":1.1645},{"i":175,"i2":199,"p":1.1608},{"i":201,"i2":223,"p":1.1596},
      {"i":232,"i2":247,"p":1.1603},{"i":250,"i2":270,"p":1.1684},{"i":268,"i2":294,"p":1.1562},{"i":300,"i2":318,"p":1.1603},
      {"i":320,"i2":342,"p":1.1577},{"i":346,"i2":365,"p":1.1612},{"i":374,"i2":389,"p":1.1552},{"i":416,"i2":437,"p":1.1585},
      {"i":440,"i2":462,"p":1.1594}
    ],
    "levels": [
      {"p":1.17864,"kind":"R"},{"p":1.17533,"kind":"B"},{"p":1.17128,"kind":"Rl"},{"p":1.17082,"kind":"R"},
      {"p":1.16663,"kind":"B"},{"p":1.16223,"kind":"Rl"},{"p":1.15837,"kind":"B"},{"p":1.1535,"kind":"R"},
      {"p":1.15017,"kind":"R"},{"p":1.14763,"kind":"C"},{"p":1.14212,"kind":"Bd"},{"p":1.14017,"kind":"R"},
      {"p":1.13784,"kind":"R"}
    ],
    "arrows": [
      {"i":471,"p":1.15837,"i2":495,"p2":1.16663,"seg":"a"},
      {"i":471,"p":1.15837,"i2":488,"p2":1.15017,"seg":"a"},
      {"i":488,"p":1.15017,"i2":507,"p2":1.14017,"seg":"b"}
    ],
    "heads": [
      {"i":481,"p":1.1618,"dir":"up"},{"i":495,"p":1.16663,"dir":"up"},
      {"i":481,"p":1.15355,"dir":"down"},{"i":488,"p":1.15017,"dir":"down"},{"i":507,"p":1.14017,"dir":"down"}
    ],
    "shift": [
      {"i":468,"p":1.17996}
    ]
  },
  "vconcat": [
    {
      "width": 913,
      "height": 438,
      "layer": [
        {
          "data": {"name": "levels"},
          "mark": {"type": "rule", "strokeWidth": 1},
          "encoding": {
            "y": {"field": "p", "type": "quantitative", "title": null,
                  "scale": {"domain": [1.13709, 1.18025], "nice": false, "zero": false},
                  "axis": {"orient": "right", "values": [1.1788, 1.1761, 1.1734, 1.168, 1.1653, 1.1626, 1.15995, 1.15725, 1.15455, 1.15185, 1.14915, 1.14645, 1.14375, 1.14105, 1.13835],
                           "format": ".5f", "tickSize": 3, "labelPadding": 1, "labelOverlap": false, "minExtent": 32, "maxExtent": 32, "title": null}},
            "color": {"field": "kind", "type": "nominal", "legend": null,
                      "scale": {"domain": ["R", "Rl", "B", "Bd", "C"], "range": ["#ee6262", "#f3a8a8", "#8080f2", "#3a3aff", "#c4c4c4"]}},
            "strokeDash": {"field": "kind", "type": "nominal", "legend": null,
                           "scale": {"domain": ["R", "Rl", "B", "Bd", "C"], "range": [[7, 4], [7, 4], [7, 4], [1, 1], [1, 0]]}}
          }
        },
        {
          "data": {"name": "bars"},
          "mark": {"type": "rule", "strokeWidth": 1},
          "encoding": {
            "x": {"field": "i", "type": "quantitative", "scale": {"domain": [-1.2, 544.8], "nice": false, "zero": false}, "axis": null},
            "y": {"field": "l", "type": "quantitative", "title": null, "scale": {"domain": [1.13709, 1.18025], "nice": false, "zero": false}},
            "y2": {"field": "h"},
            "color": {"condition": {"test": "datum.c >= datum.o", "value": "#8c8c8c"}, "value": "#000000"}
          }
        },
        {
          "data": {"name": "bars"},
          "mark": {"type": "bar", "width": 2},
          "encoding": {
            "x": {"field": "i", "type": "quantitative", "scale": {"domain": [-1.2, 544.8], "nice": false, "zero": false}, "axis": null},
            "y": {"field": "o", "type": "quantitative", "title": null, "scale": {"domain": [1.13709, 1.18025], "nice": false, "zero": false}},
            "y2": {"field": "c"},
            "color": {"condition": {"test": "datum.c >= datum.o", "value": "#8c8c8c"}, "value": "#000000"}
          }
        },
        {
          "data": {"name": "segs"},
          "mark": {"type": "rule", "color": "#111111", "strokeWidth": 1},
          "encoding": {
            "x": {"field": "i", "type": "quantitative", "scale": {"domain": [-1.2, 544.8], "nice": false, "zero": false}, "axis": null},
            "x2": {"field": "i2"},
            "y": {"field": "p", "type": "quantitative", "title": null, "scale": {"domain": [1.13709, 1.18025], "nice": false, "zero": false}}
          }
        },
        {
          "data": {"name": "ma"},
          "mark": {"type": "line", "color": "#6464ff", "strokeWidth": 1, "interpolate": "monotone"},
          "encoding": {
            "x": {"field": "i", "type": "quantitative", "scale": {"domain": [-1.2, 544.8], "nice": false, "zero": false}, "axis": null},
            "y": {"field": "p", "type": "quantitative", "title": null, "scale": {"domain": [1.13709, 1.18025], "nice": false, "zero": false}}
          }
        },
        {
          "data": {"name": "bands"},
          "mark": {"type": "line", "color": "#ff1010", "strokeWidth": 1, "interpolate": "monotone"},
          "encoding": {
            "x": {"field": "i", "type": "quantitative", "scale": {"domain": [-1.2, 544.8], "nice": false, "zero": false}, "axis": null},
            "y": {"field": "p", "type": "quantitative", "title": null, "scale": {"domain": [1.13709, 1.18025], "nice": false, "zero": false}},
            "detail": {"field": "b", "type": "nominal"}
          }
        },
        {
          "data": {"name": "arrows"},
          "mark": {"type": "rule", "strokeWidth": 1.5},
          "encoding": {
            "x": {"field": "i", "type": "quantitative", "scale": {"domain": [-1.2, 544.8], "nice": false, "zero": false}, "axis": null},
            "x2": {"field": "i2"},
            "y": {"field": "p", "type": "quantitative", "title": null, "scale": {"domain": [1.13709, 1.18025], "nice": false, "zero": false}},
            "y2": {"field": "p2"},
            "stroke": {"field": "seg", "type": "nominal", "legend": null, "scale": {"domain": ["a", "b"], "range": ["#858585", "#bdbdbd"]}}
          }
        },
        {
          "data": {"name": "heads"},
          "transform": [{"filter": "datum.dir == 'up'"}],
          "mark": {"type": "point", "shape": "triangle-up", "filled": true, "opacity": 1, "size": 40, "angle": 26, "color": "#858585"},
          "encoding": {
            "x": {"field": "i", "type": "quantitative", "scale": {"domain": [-1.2, 544.8], "nice": false, "zero": false}, "axis": null},
            "y": {"field": "p", "type": "quantitative", "title": null, "scale": {"domain": [1.13709, 1.18025], "nice": false, "zero": false}}
          }
        },
        {
          "data": {"name": "heads"},
          "transform": [{"filter": "datum.dir == 'down'"}],
          "mark": {"type": "point", "shape": "triangle-up", "filled": true, "opacity": 1, "size": 40, "angle": 162, "color": "#858585"},
          "encoding": {
            "x": {"field": "i", "type": "quantitative", "scale": {"domain": [-1.2, 544.8], "nice": false, "zero": false}, "axis": null},
            "y": {"field": "p", "type": "quantitative", "title": null, "scale": {"domain": [1.13709, 1.18025], "nice": false, "zero": false}}
          }
        },
        {
          "data": {"name": "shift"},
          "mark": {"type": "point", "shape": "triangle-down", "filled": true, "opacity": 1, "size": 18, "color": "#9a9a9a"},
          "encoding": {
            "x": {"field": "i", "type": "quantitative", "scale": {"domain": [-1.2, 544.8], "nice": false, "zero": false}, "axis": null},
            "y": {"field": "p", "type": "quantitative", "title": null, "scale": {"domain": [1.13709, 1.18025], "nice": false, "zero": false}}
          }
        },
        {
          "data": {"name": "levels"},
          "mark": {"type": "point", "shape": "M-1,-0.31L1,-0.31L1,0.31L-1,0.31Z", "filled": true, "opacity": 1, "size": 676, "strokeWidth": 0},
          "encoding": {
            "x": {"datum": 553.75, "type": "quantitative", "scale": {"domain": [-1.2, 544.8], "nice": false, "zero": false}, "axis": null},
            "y": {"field": "p", "type": "quantitative", "title": null, "scale": {"domain": [1.13709, 1.18025], "nice": false, "zero": false}},
            "fill": {"field": "kind", "type": "nominal", "legend": null,
                     "scale": {"domain": ["R", "Rl", "B", "Bd", "C"], "range": ["#ff0000", "#ff0000", "#0000ff", "#0000ff", "#000000"]}}
          }
        },
        {
          "data": {"name": "levels"},
          "mark": {"type": "text", "color": "#ffffff", "fontSize": 6, "align": "center", "baseline": "middle"},
          "encoding": {
            "x": {"datum": 553.75, "type": "quantitative", "scale": {"domain": [-1.2, 544.8], "nice": false, "zero": false}, "axis": null},
            "y": {"field": "p", "type": "quantitative", "title": null, "scale": {"domain": [1.13709, 1.18025], "nice": false, "zero": false}},
            "text": {"field": "p", "type": "quantitative", "format": ".5f"}
          }
        },
        {
          "data": {"values": [{"t": "▼ EURUSD.s,H1  1.14800 1.14815 1.14732 1.14763"}]},
          "mark": {"type": "text", "align": "left", "baseline": "middle", "fontSize": 6, "color": "#1a1a1a"},
          "encoding": {
            "x": {"datum": 1, "type": "quantitative", "scale": {"domain": [-1.2, 544.8], "nice": false, "zero": false}, "axis": null},
            "y": {"datum": 1.17976, "type": "quantitative", "title": null, "scale": {"domain": [1.13709, 1.18025], "nice": false, "zero": false}},
            "text": {"field": "t"}
          }
        }
      ]
    },
    {
      "width": 913,
      "height": 79,
      "layer": [
        {
          "data": {"name": "bars"},
          "mark": {"type": "bar", "width": 2, "color": "#858585"},
          "encoding": {
            "x": {"field": "i", "type": "quantitative", "title": null,
                  "scale": {"domain": [-1.2, 544.8], "nice": false, "zero": false},
                  "axis": {"orient": "bottom", "values": [0, 32, 64, 96, 128, 160, 192, 224, 256, 288, 320, 352, 384, 416, 448],
                           "labelExpr": "['14 Oct 2021','17 Oct 23:00','19 Oct 07:00','20 Oct 15:00','21 Oct 23:00','25 Oct 07:00','26 Oct 15:00','27 Oct 23:00','29 Oct 07:00','1 Nov 17:00','3 Nov 01:00','4 Nov 09:00','5 Nov 17:00','9 Nov 01:00','10 Nov 09:00'][round(datum.value / 32)]",
                           "labelAlign": "left", "labelPadding": 1, "tickSize": 3, "labelFlush": false, "labelOverlap": false, "title": null}},
            "y": {"field": "m", "type": "quantitative", "title": null,
                  "scale": {"domain": [-0.00326, 0.00278], "nice": false, "zero": false},
                  "axis": {"orient": "right", "values": [0.002454, 0, -0.00298],
                           "labelExpr": "datum.value == 0 ? '0.00' : (datum.value > 0 ? '0.002454' : '-0.00298')",
                           "tickSize": 3, "labelPadding": 1, "labelOverlap": false, "minExtent": 32, "maxExtent": 32, "title": null}},
            "y2": {"datum": 0}
          }
        },
        {
          "data": {"name": "signal"},
          "mark": {"type": "line", "color": "#ff0000", "strokeWidth": 1, "strokeDash": [1.5, 1.5], "interpolate": "monotone"},
          "encoding": {
            "x": {"field": "i", "type": "quantitative", "title": null, "scale": {"domain": [-1.2, 544.8], "nice": false, "zero": false}},
            "y": {"field": "s", "type": "quantitative", "title": null, "scale": {"domain": [-0.00326, 0.00278], "nice": false, "zero": false}}
          }
        },
        {
          "data": {"values": [{"t": "MACD(12,26,9) -0.002733 -0.002398"}]},
          "mark": {"type": "text", "align": "left", "baseline": "middle", "fontSize": 6, "color": "#1a1a1a"},
          "encoding": {
            "x": {"datum": 0.6, "type": "quantitative", "title": null, "scale": {"domain": [-1.2, 544.8], "nice": false, "zero": false}},
            "y": {"datum": 0.00247, "type": "quantitative", "title": null, "scale": {"domain": [-0.00326, 0.00278], "nice": false, "zero": false}},
            "text": {"field": "t"}
          }
        }
      ]
    }
  ]
}
